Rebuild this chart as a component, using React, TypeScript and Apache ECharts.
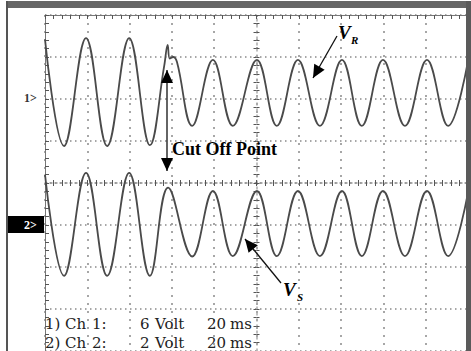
import React, { useEffect, useRef } from "react";
import * as echarts from "echarts";

// time in divisions (centre of screen = 0), amplitude in divisions (centre line = 0)
const vrTime = [-5.0, -4.55, -4.03, -3.53, -3.01, -2.52, -2.18, -2.1, -2.05, -1.97, -1.88, -1.52, -1.03, -0.56, 0.01, 0.48, 0.98, 1.5, 2.02, 2.49, 2.99, 3.51, 4.03, 4.53, 5.0];
const vrVolts = [3.42, 0.88, 3.45, 0.88, 3.45, 0.9, 2.8, 3.29, 2.96, 3.0, 2.88, 1.36, 2.93, 1.36, 2.93, 1.36, 2.93, 1.36, 2.93, 1.36, 2.93, 1.36, 2.93, 1.36, 2.9];
const vsTime = [-5.0, -4.55, -4.03, -3.53, -3.01, -2.52, -2.09, -1.52, -1.03, -0.56, 0.01, 0.48, 0.98, 1.5, 2.02, 2.49, 2.99, 3.51, 4.03, 4.53, 5.0];
const vsVolts = [0.2, -2.21, 0.24, -2.21, 0.24, -2.21, -0.11, -1.75, -0.19, -1.74, -0.19, -1.74, -0.19, -1.74, -0.19, -1.74, -0.19, -1.74, -0.19, -1.74, -0.23];

const infoWords = [
  ["1)", "Ch", "1:", "6", "Volt", "20", "ms"],
  ["2)", "Ch", "2:", "2", "Volt", "20", "ms"],
];
const channelMarks = ["1>", "2>"];

function head(tx: number, ty: number, fx: number, fy: number, len: number, hw: number) {
  const dx = tx - fx, dy = ty - fy;
  const d = Math.sqrt(dx * dx + dy * dy);
  const ux = dx / d, uy = dy / d;
  const bx = tx - ux * len, by = ty - uy * len;
  return [[tx, ty], [bx - uy * hw, by + ux * hw], [bx + uy * hw, by - ux * hw]];
}

function arrow(fx: number, fy: number, tx: number, ty: number) {
  return [
    { type: "line", shape: { x1: fx, y1: fy, x2: tx, y2: ty }, style: { stroke: "#111", lineWidth: 1.3 }, z: 100 },
    { type: "polygon", shape: { points: head(tx, ty, fx, fy, 13, 6) }, style: { fill: "#000" }, z: 100 },
  ];
}

export default function App() {
  const ref = useRef<HTMLDivElement>(null);
  useEffect(() => {
    document.body.style.margin = "0";
    const chart = echarts.init(ref.current!, null, { renderer: "svg" });
    const serif = "'Liberation Serif', 'DejaVu Serif', serif";
    const dserif = "'DejaVu Serif', serif";
    const tickCol = "#555";
    const xBase = { type: "value", min: -5, max: 5, interval: 1, axisLabel: { show: false } };
    const yBase = { type: "value", min: -4, max: 4, interval: 1, axisLabel: { show: false } };
    const wordX = [45, 65, 92, 140, 155, 207, 230];
    const infoTexts: any[] = [];
    infoWords.forEach((ln, i) => {
      const y = 324 + i * 19;
      ln.forEach((w, j) => {
        infoTexts.push({ type: "text", x: wordX[j], y, style: { text: w, font: `15px ${dserif}`, fill: "#222", verticalAlign: "middle" }, z: 100 });
      });
    });
    chart.setOption({
      animation: false,
      backgroundColor: "#fff",
      grid: { left: 45, right: 3, top: 15, bottom: 0 },
      xAxis: [
        {
          ...xBase, position: "top",
          axisLine: { show: true, onZero: false, lineStyle: { color: "#777", width: 1 } },
          axisTick: { show: true, inside: true, length: 4, lineStyle: { color: tickCol } },
          minorTick: { show: true, splitNumber: 5, length: 4, lineStyle: { color: tickCol } },
          splitLine: { show: true, lineStyle: { color: "#8a8a8a", type: [2, 6], width: 1.5 } },
        },
        {
          ...xBase, position: "bottom",
          axisLine: { show: true, onZero: true, lineStyle: { color: "#999", type: [2, 3], width: 1.5 } },
          axisTick: { show: true, inside: false, length: 3, lineStyle: { color: tickCol } },
          minorTick: { show: true, splitNumber: 5, length: 3, lineStyle: { color: tickCol } },
          splitLine: { show: false },
        },
        {
          ...xBase, position: "top",
          axisLine: { show: false, onZero: true },
          axisTick: { show: true, inside: false, length: 3, lineStyle: { color: tickCol } },
          minorTick: { show: true, splitNumber: 5, length: 3, lineStyle: { color: tickCol } },
          splitLine: { show: false },
        },
      ],
      yAxis: [
        {
          ...yBase, position: "left",
          axisLine: { show: true, onZero: false, lineStyle: { color: "#777", width: 1 } },
          axisTick: { show: true, inside: true, length: 4, lineStyle: { color: tickCol } },
          minorTick: { show: true, splitNumber: 5, length: 4, lineStyle: { color: tickCol } },
          splitLine: { show: true, lineStyle: { color: "#8a8a8a", type: [1.5, 3.5], width: 1.5 } },
        },
        {
          ...yBase, position: "left",
          axisLine: { show: true, onZero: true, lineStyle: { color: "#aaa", type: [2, 4], width: 1.5 } },
          axisTick: { show: true, inside: false, length: 3, lineStyle: { color: tickCol } },
          minorTick: { show: true, splitNumber: 5, length: 3, lineStyle: { color: tickCol } },
          splitLine: { show: false },
        },
        {
          ...yBase, position: "right",
          axisLine: { show: false, onZero: true },
          axisTick: { show: true, inside: false, length: 3, lineStyle: { color: tickCol } },
          minorTick: { show: true, splitNumber: 5, length: 3, lineStyle: { color: tickCol } },
          splitLine: { show: false },
        },
      ],
      series: [
        {
          name: "VR", type: "line", xAxisIndex: 0, yAxisIndex: 0, smooth: 0.4, symbol: "none",
          data: vrTime.map((t, i) => [t, vrVolts[i]]),
          lineStyle: { color: "#4a4a4a", width: 1.8 }, z: 10,
        },
        {
          name: "VS", type: "line", xAxisIndex: 0, yAxisIndex: 0, smooth: 0.4, symbol: "none",
          data: vsTime.map((t, i) => [t, vsVolts[i]]),
          lineStyle: { color: "#4a4a4a", width: 1.8 }, z: 10,
        },
      ],
      graphic: [
        { type: "rect", shape: { x: 6, y: 1, width: 465, height: 7 }, style: { fill: "#666" }, z: 90 },
        { type: "rect", shape: { x: 6, y: 1, width: 2, height: 350 }, style: { fill: "#555" }, z: 90 },
        { type: "rect", shape: { x: 466, y: 1, width: 5, height: 350 }, style: { fill: "#5a5a5a" }, z: 90 },
        { type: "text", x: 24, y: 98, style: { text: channelMarks[0], font: `bold 12px ${serif}`, fill: "#333", verticalAlign: "middle" }, z: 100 },
        { type: "rect", shape: { x: 8, y: 216, width: 36, height: 17 }, style: { fill: "#000" }, z: 95 },
        { type: "text", x: 24, y: 225, style: { text: channelMarks[1], font: `bold 12px ${serif}`, fill: "#fff", verticalAlign: "middle" }, z: 100 },
        ...arrow(167, 120, 167, 70),
        ...arrow(167, 120, 167, 171),
        { type: "text", x: 172, y: 149, style: { text: "Cut Off Point", font: `bold 18px ${serif}`, fill: "#000", verticalAlign: "middle" }, z: 100 },
        ...arrow(337, 36, 313, 78),
        { type: "text", x: 338, y: 32, style: { text: "V", font: `italic bold 19px ${serif}`, fill: "#000", verticalAlign: "middle" }, z: 100 },
        { type: "text", x: 351, y: 40, style: { text: "R", font: `italic bold 11px ${serif}`, fill: "#000", verticalAlign: "middle" }, z: 100 },
        ...arrow(281, 283, 245, 239),
        { type: "text", x: 283, y: 289, style: { text: "V", font: `italic bold 19px ${serif}`, fill: "#000", verticalAlign: "middle" }, z: 100 },
        { type: "text", x: 297, y: 297, style: { text: "S", font: `italic bold 11px ${serif}`, fill: "#000", verticalAlign: "middle" }, z: 100 },
        ...infoTexts,
      ],
    });
    return () => chart.dispose();
  }, []);
  return <div ref={ref} style={{ position: "fixed", left: 0, top: 0, width: 471, height: 351 }} />;
}
